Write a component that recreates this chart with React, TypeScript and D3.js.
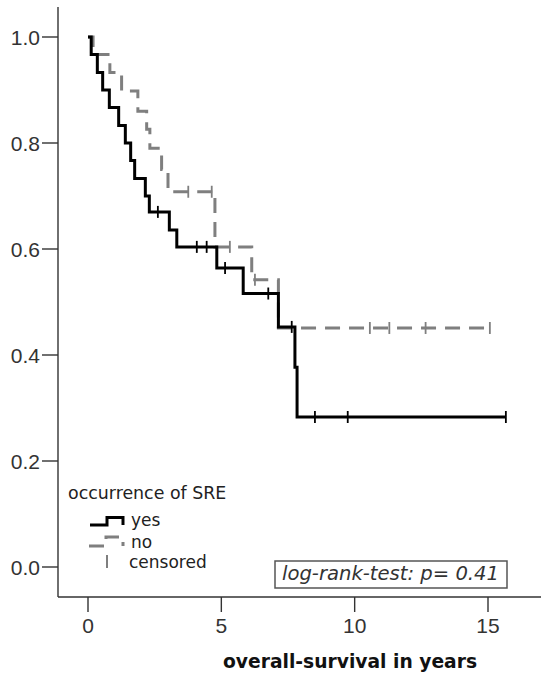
import React from "react";
import * as d3 from "d3";

// Kaplan-Meier steps (time in years, survival after the step)
const yesTimes = [0, 0.12, 0.35, 0.55, 0.8, 1.15, 1.4, 1.6, 1.75, 2.15, 2.3, 3.05, 3.33, 4.83, 5.82, 7.14, 7.76, 7.84];
const yesSurv = [1, 0.967, 0.933, 0.9, 0.867, 0.833, 0.8, 0.767, 0.733, 0.7, 0.67, 0.636, 0.604, 0.564, 0.516, 0.453, 0.377, 0.283];
const yesCensored = [2.62, 4.08, 4.45, 5.14, 6.76, 7.64, 8.51, 9.74, 15.67];

const noTimes = [0, 0.19, 0.82, 1.26, 1.87, 2.2, 2.32, 2.76, 3.0, 4.76, 6.14, 7.14];
const noSurv = [1, 0.967, 0.933, 0.898, 0.86, 0.826, 0.79, 0.75, 0.708, 0.604, 0.542, 0.451];
const noCensored = [3.76, 4.64, 5.32, 6.26, 10.57, 11.3, 12.66, 15.07];

const xTicks = [0, 5, 10, 15];
const yTicks = [0, 0.2, 0.4, 0.6, 0.8, 1.0];

const W = 541;
const H = 677;
const GREY = "#7f7f7f";
const AXIS = "#333";
const DASH = "15,9";
const TICKFONT = "'Liberation Sans', Arial, sans-serif";
const TEXTFONT = "'DejaVu Sans', sans-serif";

const x = d3.scaleLinear().domain([0, 15]).range([88, 488]);
const y = d3.scaleLinear().domain([0, 1]).range([567, 37]);

const stepLine = d3
  .line<[number, number]>()
  .x((d) => x(d[0]))
  .y((d) => y(d[1]))
  .curve(d3.curveStepAfter);

function survAt(times: number[], surv: number[], t: number) {
  const i = d3.bisectRight(times, t) - 1;
  return surv[Math.max(0, i)];
}

function curvePath(times: number[], surv: number[], censored: number[]) {
  const pts: [number, number][] = times.map((t, i) => [t, surv[i]]);
  const end = d3.max(censored) as number;
  pts.push([end, surv[surv.length - 1]]);
  return stepLine(pts) || "";
}

const Censors = ({ times, surv, censored, color }: any) => (
  <g stroke={color} strokeWidth={1.8}>
    {censored.map((t: number, i: number) => {
      const cx = x(t);
      const cy = y(survAt(times, surv, t));
      return <line key={i} x1={cx} x2={cx} y1={cy - 6} y2={cy + 6} />;
    })}
  </g>
);

export default function App() {
  return (
    <svg
      width={W}
      height={H}
      style={{ position: "absolute", left: 0, top: 0, background: "#fff" }}
    >
      <rect width={W} height={H} fill="#fff" />

      {/* axes */}
      <g stroke={AXIS} strokeWidth={1.4} fill="none">
        <line x1={58} x2={58} y1={7} y2={597} />
        <line x1={58} x2={541} y1={597} y2={597} />
        {yTicks.map((t) => (
          <line key={t} x1={42} x2={58} y1={y(t)} y2={y(t)} />
        ))}
        {xTicks.map((t) => (
          <line key={t} x1={x(t)} x2={x(t)} y1={597} y2={612} />
        ))}
      </g>
      <g fill={AXIS} fontFamily={TICKFONT} fontSize={21}>
        {yTicks.map((t) => (
          <text key={t} x={40} y={y(t)} dy="0.36em" textAnchor="end">
            {d3.format(".1f")(t)}
          </text>
        ))}
        {xTicks.map((t) => (
          <text key={t} x={x(t)} y={633} textAnchor="middle">
            {t}
          </text>
        ))}
      </g>
      <text
        x={223}
        y={668}
        fontFamily={TEXTFONT}
        fontWeight="bold"
        fontSize={18.7}
        fill="#111"
      >
        overall-survival in years
      </text>

      {/* curves */}
      <path
        d={curvePath(noTimes, noSurv, noCensored)}
        fill="none"
        stroke={GREY}
        strokeWidth={3}
        strokeDasharray={DASH}
      />
      <Censors times={noTimes} surv={noSurv} censored={noCensored} color={GREY} />
      <path
        d={curvePath(yesTimes, yesSurv, yesCensored)}
        fill="none"
        stroke="#000"
        strokeWidth={3}
      />
      <Censors times={yesTimes} surv={yesSurv} censored={yesCensored} color="#000" />

      {/* legend */}
      <g fontFamily={TEXTFONT} fontSize={17} fill="#222">
        <text x={68} y={499} fontSize={17.4}>
          occurrence of SRE
        </text>
        <path d="M90,525H107V517.5H123V525" fill="none" stroke="#000" strokeWidth={3} />
        <text x={131} y={526}>yes</text>
        <path
          d="M89,546H106V537H123V546"
          fill="none"
          stroke={GREY}
          strokeWidth={3}
          strokeDasharray={DASH}
        />
        <text x={131} y={548}>no</text>
        <line x1={107} x2={107} y1={555} y2={568} stroke={GREY} strokeWidth={2} />
        <text x={129} y={568}>censored</text>
      </g>

      {/* test annotation */}
      <rect x={275} y={561} width={232} height={27} fill="#fff" stroke="#555" strokeWidth={1.5} />
      <text
        x={282}
        y={580}
        fontFamily={TEXTFONT}
        fontStyle="italic"
        fontSize={19.6}
        fill="#333"
      >
        log-rank-test: p= 0.41
      </text>
    </svg>
  );
}
